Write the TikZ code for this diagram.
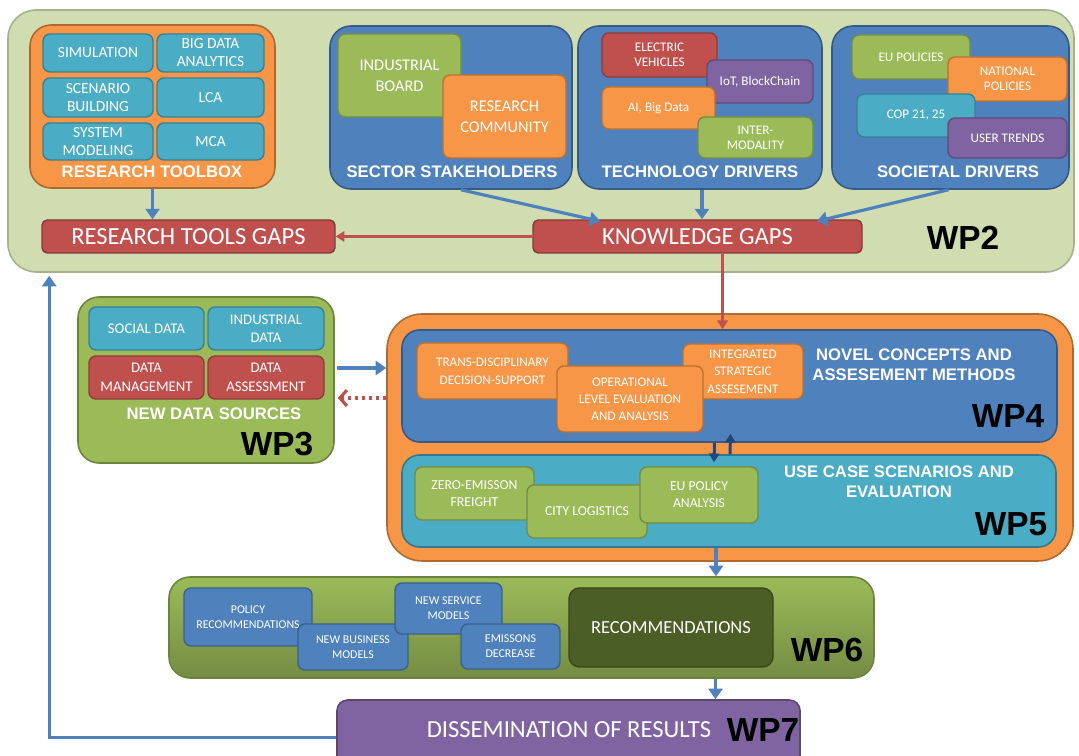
\documentclass[tikz,border=0pt]{standalone}
\usepackage{fontspec}
\setmainfont{Carlito}
\newfontfamily\headfont{Liberation Sans}
\usetikzlibrary{calc,arrows.meta}

\definecolor{wpbg}{HTML}{CFDDB1}
\definecolor{tbOrange}{HTML}{F79646}
\definecolor{tbTeal}{HTML}{4BACC6}
\definecolor{tbBlue}{HTML}{4F81BD}
\definecolor{tbRed}{HTML}{C0504D}
\definecolor{tbGreen}{HTML}{9BBB59}
\definecolor{tbPurple}{HTML}{8064A2}
\definecolor{tbDark}{HTML}{4A5E25}
\definecolor{tbNavy}{HTML}{1F497D}

% box from (x1,y1) to (x2,y2), in pixels of the picture
\def\pane[#1](#2)(#3,#4)(#5,#6)#7{\node[#1, minimum width={(#5-#3)*0.02cm}, minimum height={(#6-#4)*0.02cm}] (#2) at ({(#3+#5)/2},{(#4+#6)/2}) {#7};}

\tikzset{
  panel/.style={fill=#1, draw=#1!70!black, line width=0.9pt, rounded corners=12pt},
  cell/.style={fill=#1, draw=#1!75!black, line width=0.8pt, rounded corners=4pt, text=white, align=center, inner sep=1pt, font=\fontsize{7.5}{8.5}\selectfont},
  gapbox/.style={fill=tbRed, draw=tbRed!70!black, line width=0.8pt, rounded corners=3pt, text=white, font=\fontsize{14}{16}\selectfont},
  paneltitle/.style={text=white, align=center, font=\headfont\bfseries\fontsize{9.5}{11.5}\selectfont},
  wplabel/.style={font=\headfont\bfseries\fontsize{19}{20}\selectfont},
  flow/.style={draw=tbBlue, line width=1.8pt, -{Triangle[length=6pt,width=8pt]}},
  redflow/.style={draw=tbRed, line width=1.2pt, -{Triangle[length=5pt,width=6pt]}},
  navyflow/.style={draw=tbNavy, line width=1.7pt, -{Triangle[length=5pt,width=6pt]}},
  dotflow/.style={draw=tbRed, line width=1.8pt, dash pattern=on 2pt off 2pt, -{Straight Barb[length=4pt,width=9pt]}}
}

\begin{document}
\begin{tikzpicture}[x=0.02cm,y=-0.02cm]
\useasboundingbox (0,0) rectangle (1079,756);

% WP2
\pane[panel=wpbg, draw=wpbg!80!black, rounded corners=16pt](wptwo)(8,10)(1074,272){}

\pane[panel=tbOrange, rounded corners=12pt](toolbox)(30,25)(275,188){}
\pane[cell=tbTeal, font=\fontsize{8.8}{10.2}\selectfont](simulation)(43,34)(153,72){SIMULATION}
\pane[cell=tbTeal, font=\fontsize{8.8}{10.2}\selectfont](bigdata)(157,34)(264,72){BIG DATA\\ANALYTICS}
\pane[cell=tbTeal, font=\fontsize{8.8}{10.2}\selectfont](scenario)(43,78)(153,117){SCENARIO\\BUILDING}
\pane[cell=tbTeal, font=\fontsize{8.8}{10.2}\selectfont](lca)(157,78)(264,117){LCA}
\pane[cell=tbTeal, font=\fontsize{8.8}{10.2}\selectfont](sysmodel)(43,123)(153,160){SYSTEM\\MODELING}
\pane[cell=tbTeal, font=\fontsize{8.8}{10.2}\selectfont](mca)(157,123)(264,160){MCA}
\node[paneltitle] (toolboxlbl) at (152,172) {RESEARCH TOOLBOX};

\pane[panel=tbBlue](sector)(330,26)(572,189){}
\pane[cell=tbGreen, font=\fontsize{9.3}{12}\selectfont](indboard)(338,34)(461,117){INDUSTRIAL\\BOARD}
\pane[cell=tbOrange, font=\fontsize{9.3}{12}\selectfont](rescomm)(443,75)(566,158){RESEARCH\\COMMUNITY}
\node[paneltitle] (sectorlbl) at (452,172) {SECTOR STAKEHOLDERS};

\pane[panel=tbBlue](tech)(578,26)(822,189){}
\pane[cell=tbRed](electric)(602,33)(717,77){ELECTRIC\\VEHICLES}
\pane[cell=tbPurple](iot)(707,60)(813,103){IoT, BlockChain}
\pane[cell=tbOrange](aibig)(602,87)(715,129){AI, Big Data}
\pane[cell=tbGreen](intermod)(698,117)(813,158){INTER-\\MODALITY}
\node[paneltitle] (techlbl) at (700,172) {TECHNOLOGY DRIVERS};

\pane[panel=tbBlue](societal)(832,26)(1069,189){}
\pane[cell=tbGreen](eupol)(852,35)(970,79){EU POLICIES}
\pane[cell=tbOrange](natpol)(948,57)(1067,101){NATIONAL\\POLICIES}
\pane[cell=tbTeal](cop)(857,94)(975,137){COP 21, 25}
\pane[cell=tbPurple](usertr)(948,118)(1067,158){USER TRENDS}
\node[paneltitle] (societallbl) at (958,172) {SOCIETAL DRIVERS};

\pane[gapbox](rtgaps)(42,220)(335,253){RESEARCH TOOLS GAPS}
\pane[gapbox](kgaps)(533,220)(862,253){KNOWLEDGE GAPS}
\node[wplabel] (wptwolbl) at (963,238) {WP2};

% WP3
\pane[panel=tbGreen](wpthree)(78,297)(334,463){}
\pane[cell=tbTeal, font=\fontsize{8.4}{10.5}\selectfont](social)(89,307)(204,350){SOCIAL DATA}
\pane[cell=tbTeal, font=\fontsize{8.4}{10.5}\selectfont](inddata)(208,307)(324,350){INDUSTRIAL\\DATA}
\pane[cell=tbRed, font=\fontsize{8.4}{10.5}\selectfont](datamgmt)(89,356)(204,399){DATA\\MANAGEMENT}
\pane[cell=tbRed, font=\fontsize{8.4}{10.5}\selectfont](dataassess)(208,356)(324,399){DATA\\ASSESSMENT}
\node[paneltitle] (datalbl) at (214,414) {NEW DATA SOURCES};
\node[wplabel] (wpthreelbl) at (277,444) {WP3};

% WP4 and WP5
\pane[panel=tbOrange, rounded corners=20pt](core)(387,314)(1073,561){}
\pane[panel=tbBlue, rounded corners=10pt](wpfour)(402,330)(1057,442){}
\pane[cell=tbOrange, font=\fontsize{7.5}{10}\selectfont](transdisc)(417,343)(568,399){TRANS-DISCIPLINARY\\DECISION-SUPPORT}
\pane[cell=tbOrange, font=\fontsize{7.5}{10}\selectfont](integrated)(683,344)(803,399){INTEGRATED\\STRATEGIC\\ASSESEMENT}
\pane[cell=tbOrange, font=\fontsize{7.5}{9.6}\selectfont](operational)(557,366)(703,432){OPERATIONAL\\LEVEL EVALUATION\\AND ANALYSIS}
\node[paneltitle] (novellbl) at (914,365) {NOVEL CONCEPTS AND\\ASSESEMENT METHODS};
\node[wplabel] (wpfourlbl) at (1008,416) {WP4};

\pane[panel=tbTeal, rounded corners=10pt](wpfive)(402,455)(1056,547){}
\pane[cell=tbGreen, font=\fontsize{7.8}{9.6}\selectfont](zerofreight)(415,467)(534,520){ZERO-EMISSON\\FREIGHT}
\pane[cell=tbGreen, font=\fontsize{7.8}{9.6}\selectfont](citylog)(527,485)(647,538){CITY LOGISTICS}
\pane[cell=tbGreen, font=\fontsize{7.8}{9.6}\selectfont](eupolicy)(640,467)(758,523){EU POLICY\\ANALYSIS}
\node[paneltitle] (usecaselbl) at (899,482) {USE CASE SCENARIOS AND\\EVALUATION};
\node[wplabel] (wpfivelbl) at (1011,524) {WP5};

% WP6
\pane[panel=tbGreen, top color=tbGreen, bottom color=tbGreen!75!black](wpsix)(169,577)(874,678){}
\pane[cell=tbBlue, font=\fontsize{6.8}{8.5}\selectfont](polrec)(184,588)(312,646){POLICY\\RECOMMENDATIONS}
\pane[cell=tbBlue, font=\fontsize{6.8}{8.5}\selectfont](newbiz)(298,624)(408,670){NEW BUSINESS\\MODELS}
\pane[cell=tbBlue, font=\fontsize{6.8}{8.5}\selectfont](newserv)(395,583)(502,634){NEW SERVICE\\MODELS}
\pane[cell=tbBlue, font=\fontsize{6.8}{8.5}\selectfont](emission)(461,624)(560,669){EMISSONS\\DECREASE}
\pane[cell=tbDark, rounded corners=6pt, font=\fontsize{10.5}{12}\selectfont](recomm)(569,588)(773,667){RECOMMENDATIONS}
\node[wplabel] (wpsixlbl) at (827,650) {WP6};

% WP7
\pane[panel=tbPurple, rounded corners=6pt](wpseven)(337,700)(800,775){}
\node[text=white, font=\fontsize{14}{16}\selectfont] (dissem) at (569,730) {DISSEMINATION OF RESULTS};
\node[wplabel] (wpsevenlbl) at (763,730) {WP7};

% connectors
\draw[flow] (toolbox.south) -- (toolbox.south |- rtgaps.north);
\draw[flow] ($(sector.south)+(10,0)$) -- ($(kgaps.north west)+(68,2)$);
\draw[flow] ($(tech.south)+(2,0)$) -- ($(tech.south |- kgaps.north)+(2,0)$);
\draw[flow] ($(societal.south)+(-2,0)$) -- ($(kgaps.north east)+(-46,2)$);
\draw[redflow] (kgaps.west) -- (rtgaps.east);
\draw[redflow] ($(kgaps.south)+(25,0)$) -- ($(kgaps.south |- wpfour.north)+(25,0)$);
\draw[flow] ($(wpthree.east)+(2,-12)$) -- ($(core.west |- wpthree.east)+(0,-12)$);
\draw[dotflow] ($(core.west |- wpthree.east)+(0,18)$) -- ($(wpthree.east)+(3,18)$);
\draw[navyflow] ($(wpfour.south)+(-15,0)$) -- ($(wpfive.north)+(-15,8)$);
\draw[navyflow] ($(wpfive.north)+(1,0)$) -- ($(wpfour.south)+(1,-9)$);
\draw[flow] ($(wpfive.south)+(-13,0)$) -- ($(wpfive.south |- wpsix.north)+(-13,0)$);
\draw[flow] ($(wpsix.south)+(194,0)$) -- ($(wpsix.south |- wpseven.north)+(194,0)$);
\draw[flow] (wpseven.west) -| ($(wptwo.south west)+(42,3)$);
\end{tikzpicture}
\end{document}
